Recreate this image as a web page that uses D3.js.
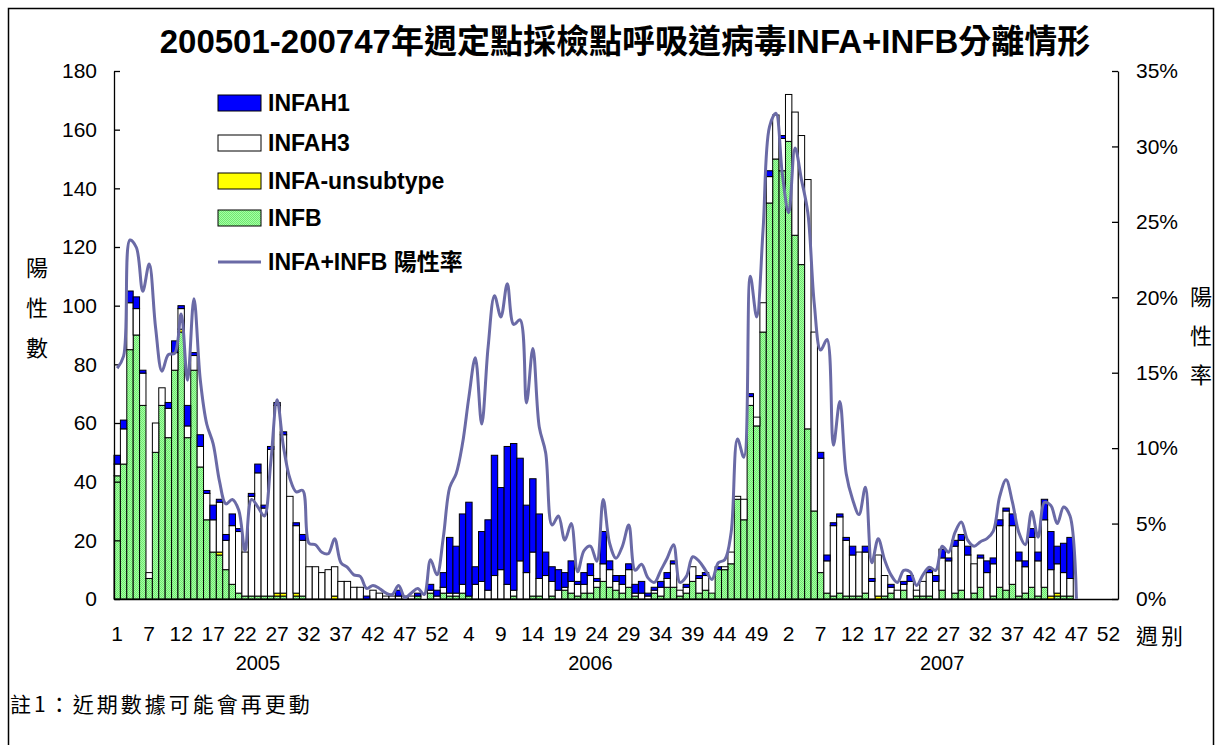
<!DOCTYPE html>
<html lang="zh-Hant">
<head>
<meta charset="UTF-8">
<title>200501-200747 INFA+INFB</title>
<script src="https://cdn.jsdelivr.net/npm/d3@7"></script>
<style>
  body { margin: 0; background: #fff; }
  svg text { font-family: "Liberation Sans", Arial, "Noto Sans CJK TC", sans-serif; fill: #000; }
  .cjk { font-family: "Noto Sans CJK TC", "Liberation Sans", sans-serif; }
</style>
</head>
<body>
<div id="chart"></div>
<script>
// x-axis tick labels, one every 5th week slot
const weekTicks = ["1","7","12","17","22","27","32","37","42","47","52",
                   "4","9","14","19","24","29","34","39","44","49",
                   "2","7","12","17","22","27","32","37","42","47","52"];
const yearLabels = ["2005", "2006", "2007"];

// counts per week (slot 0 = 2005 week 1 ... slot 150 = 2007 week 47)
const infb = [42,46,85,90,66,7,50,66,55,78,
              91,55,78,45,27,16,15,10,5,2,
              1,1,1,1,1,1,1,0,1,1,
              0,0,0,0,0,0,0,0,0,0,
              0,0,0,0,0,0,0,1,0,2,
              0,2,1,1,2,1,0,0,0,0,
              0,0,1,0,0,1,1,0,1,0,
              3,2,1,2,2,4,6,4,3,2,
              4,1,0,0,2,1,4,4,1,2,
              6,2,3,2,10,10,12,34,27,66,
              59,91,135,150,146,156,124,114,58,30,
              9,2,1,2,1,1,1,2,0,0,
              1,2,0,3,0,1,1,1,0,3,
              0,2,3,0,2,4,0,1,4,3,
              5,1,2,4,1,4,0,1,1,1,
              0];
const infaUnsub = [0,0,0,0,0,0,0,0,0,0,
                   1,0,0,0,0,0,1,0,0,0,
                   0,0,0,0,0,1,1,0,1,0,
                   0,0,0,0,1,0,0,0,0,0,
                   0,0,0,0,0,0,0,0,0,0,
                   0,0,0,0,0,0,0,0,0,0,
                   0,0,0,0,0,0,0,0,0,0,
                   0,0,0,0,0,0,0,0,0,0,
                   0,0,0,0,0,0,0,0,0,0,
                   0,0,0,0,0,0,0,0,0,0,
                   0,0,0,0,0,0,0,0,0,0,
                   0,0,0,0,0,0,0,0,0,1,
                   0,0,0,0,0,0,0,0,0,0,
                   0,0,0,0,0,0,0,0,0,0,
                   0,0,0,0,0,0,1,1,0,0,
                   0];
const infaH3 = [4,12,16,9,11,2,10,6,10,6,
                7,4,5,7,9,11,17,10,20,21,
                15,34,42,30,50,64,54,35,23,19,
                11,11,9,10,10,6,6,4,4,0,
                3,2,1,1,1,1,1,0,0,1,
                1,2,1,1,3,0,5,6,3,8,
                10,5,2,13,9,15,6,8,5,3,
                1,4,4,3,6,2,6,6,3,3,
                6,1,2,1,1,3,3,8,2,2,
                5,5,5,0,0,1,4,1,7,3,
                3,10,9,15,11,16,42,44,85,61,
                39,11,24,26,19,14,15,14,6,14,
                7,2,3,2,6,2,5,8,6,11,
                13,16,17,15,10,10,9,11,21,27,
                20,12,9,17,12,23,9,10,8,6,
                0];
const infaH1 = [3,3,4,4,1,0,0,0,2,4,
                1,7,1,4,1,5,1,2,4,1,
                0,1,3,1,1,1,1,0,1,2,
                0,0,0,0,0,0,0,0,0,1,
                0,0,0,0,2,0,0,1,0,2,
                2,5,19,16,24,32,6,17,24,41,
                28,47,50,35,23,25,22,8,5,7,
                5,7,1,4,4,1,11,3,2,3,
                2,3,4,1,1,2,2,1,0,1,
                0,1,1,0,1,0,0,0,0,1,
                0,0,2,0,1,0,0,0,0,0,
                2,2,1,1,1,3,0,2,1,0,
                0,1,0,1,2,0,0,1,2,3,
                1,2,2,3,0,1,4,2,2,1,
                4,3,2,3,3,7,13,6,10,14,
                0];
// INFA+INFB positive rate (%)
const posRate = [15.3,16.1,23.8,23.3,20.4,22.2,18.0,15.1,16.2,16.3,
                 18.9,14.5,19.9,14.5,11.6,10.3,7.8,6.3,6.6,5.9,
                 3.2,6.6,6.1,5.5,9.0,13.2,10.1,8.0,7.1,7.2,
                 3.7,3.6,3.1,3.0,4.0,2.4,2.1,1.6,1.5,0.7,
                 0.9,0.7,0.4,0.3,0.9,0.1,0.4,0.7,0.3,2.6,
                 1.6,4.1,7.4,8.3,10.3,13.4,16.0,11.6,16.7,20.1,
                 18.7,20.9,18.2,18.5,13.0,16.6,11.4,9.7,4.9,5.5,
                 3.9,5.0,1.8,3.2,3.5,2.5,6.6,3.7,2.7,3.5,
                 4.9,1.9,2.3,1.4,1.1,1.9,2.7,3.6,1.1,1.5,
                 2.8,2.5,1.9,1.3,2.4,2.6,4.4,10.6,9.4,21.4,
                 18.7,24.5,31.3,32.2,28.2,25.6,29.9,27.8,25.6,19.6,
                 16.5,17.2,10.2,13.1,8.3,6.6,5.6,7.4,2.4,4.0,
                 2.6,1.6,1.1,1.9,1.8,0.9,1.6,2.1,1.9,3.5,
                 3.1,4.4,5.1,3.9,3.5,3.8,4.0,4.5,6.8,7.9,
                 6.4,4.4,3.6,5.8,4.1,6.4,6.2,5.0,6.1,5.5,
                 0];

const seriesKeys = ["infb", "unsub", "h3", "h1"];
const seriesNames = {h1: "INFAH1", h3: "INFAH3", unsub: "INFA-unsubtype", infb: "INFB"};
const seriesColors = {h1: "#0000ff", h3: "#ffffff", unsub: "#ffff00", infb: "url(#greenDots)"};

const W = 1221, H = 745;
const nSlots = 157;
const plot = {left: 114, right: 1118, top: 71, bottom: 599};

const rows = infb.map((v, i) => ({i: i, infb: v, unsub: infaUnsub[i], h3: infaH3[i], h1: infaH1[i], rate: posRate[i]}));

const svg = d3.select("#chart").append("svg")
    .attr("width", W)
    .attr("height", H);

// light green with the little dither Excel uses
const pat = svg.append("defs").append("pattern")
    .attr("id", "greenDots")
    .attr("width", 2).attr("height", 2)
    .attr("patternUnits", "userSpaceOnUse");
pat.append("rect").attr("width", 2).attr("height", 2).attr("fill", "#a4ffa4");
pat.append("rect").attr("width", 1).attr("height", 1).attr("fill", "#70e870");
pat.append("rect").attr("x", 1).attr("y", 1).attr("width", 1).attr("height", 1).attr("fill", "#70e870");

svg.append("rect")
    .attr("x", 8.5).attr("y", 8.5)
    .attr("width", 1205).attr("height", 780)
    .attr("fill", "none")
    .attr("stroke", "#000")
    .attr("stroke-width", 1.5);

let x = d3.scaleBand()
    .domain(d3.range(nSlots))
    .range([plot.left, plot.right])
    .padding(0);
let y = d3.scaleLinear().domain([0, 180]).range([plot.bottom, plot.top]);
let y2 = d3.scaleLinear().domain([0, 35]).range([plot.bottom, plot.top]);

// stacked bars
let stack = d3.stack().keys(seriesKeys)(rows);
svg.append("g").selectAll("g")
  .data(stack)
  .enter().append("g")
    .attr("fill", d => seriesColors[d.key])
  .selectAll("rect")
  .data(d => d.filter(s => s[1] - s[0] > 0))
  .enter().append("rect")
    .attr("x", d => x(d.data.i))
    .attr("width", x.bandwidth())
    .attr("y", d => y(d[1]))
    .attr("height", d => y(d[0]) - y(d[1]))
    .attr("stroke", "#000")
    .attr("stroke-width", 1);

// axes
let yAxis = svg.append("g")
    .attr("transform", "translate(" + plot.left + ",0)")
    .call(d3.axisLeft(y).tickValues(d3.range(0, 181, 20)).tickSize(-6).tickSizeOuter(0).tickPadding(17));
let y2Axis = svg.append("g")
    .attr("transform", "translate(" + plot.right + ",0)")
    .call(d3.axisRight(y2).tickValues(d3.range(0, 36, 5)).tickFormat(d => d + "%").tickSize(-6).tickSizeOuter(0).tickPadding(18));
let xAxis = svg.append("g")
    .attr("transform", "translate(0," + plot.bottom + ")")
    .call(d3.axisBottom(x)
      .tickValues(weekTicks.map((t, k) => k * 5))
      .tickFormat(d => weekTicks[d / 5])
      .tickSize(0).tickSizeOuter(0).tickPadding(27));
[yAxis, y2Axis, xAxis].forEach(a => {
  a.attr("font-family", null).attr("font-size", null);
  a.selectAll("path, line").attr("stroke", "#000").attr("stroke-width", 1.3);
  a.selectAll("text").style("font-size", "21px");
});

// positive rate line
let line = d3.line()
    .x(d => x(d.i) + x.bandwidth() / 2)
    .y(d => y2(d.rate))
    .curve(d3.curveCatmullRom);
svg.append("path")
    .datum(rows)
    .attr("d", line)
    .attr("fill", "none")
    .attr("stroke", "#6a6aa6")
    .attr("stroke-width", 3);

// year labels under the week numbers
const yearSlot = [22, 74, 129];
svg.selectAll(".year")
  .data(yearLabels)
  .enter().append("text")
    .attr("class", "year")
    .attr("x", (d, k) => x(yearSlot[k]) + x.bandwidth() / 2)
    .attr("y", 670)
    .attr("text-anchor", "middle")
    .style("font-size", "20px")
    .text(d => d);

// title
svg.append("text")
    .attr("x", 625)
    .attr("y", 53)
    .attr("text-anchor", "middle")
    .style("font-size", "33px")
    .style("font-weight", "bold")
    .text("200501-200747年週定點採檢點呼吸道病毒INFA+INFB分離情形");

// axis titles, one character per line
const leftTitle = ["陽", "性", "數"];
const rightTitle = ["陽", "性", "率"];
svg.selectAll(".lt")
  .data(leftTitle)
  .enter().append("text")
    .attr("class", "cjk")
    .attr("x", 37)
    .attr("y", (d, k) => 276 + k * 40)
    .attr("text-anchor", "middle")
    .style("font-size", "22px")
    .text(d => d);
svg.selectAll(".rt")
  .data(rightTitle)
  .enter().append("text")
    .attr("class", "cjk")
    .attr("x", 1201)
    .attr("y", (d, k) => 305 + k * 39)
    .attr("text-anchor", "middle")
    .style("font-size", "22px")
    .text(d => d);

svg.append("text")
    .attr("class", "cjk")
    .attr("x", 1136)
    .attr("y", 644)
    .style("font-size", "22px")
    .style("letter-spacing", "3px")
    .text("週别");

svg.append("text")
    .attr("class", "cjk")
    .attr("x", 10)
    .attr("y", 712)
    .style("font-size", "21px")
    .style("letter-spacing", "3px")
    .text("註1：近期數據可能會再更動");

// legend
const legendKeys = ["h1", "h3", "unsub", "infb"];
const legendRowY = [103, 143, 181, 218];
let legend = svg.append("g");
legend.selectAll("rect")
  .data(legendKeys)
  .enter().append("rect")
    .attr("x", 218)
    .attr("y", (d, k) => legendRowY[k] - 8)
    .attr("width", 43)
    .attr("height", 16)
    .attr("fill", d => seriesColors[d])
    .attr("stroke", "#000")
    .attr("stroke-width", 1);
legend.selectAll("text")
  .data(legendKeys)
  .enter().append("text")
    .attr("x", 268)
    .attr("y", (d, k) => legendRowY[k] + 8)
    .style("font-size", "23px")
    .style("font-weight", "bold")
    .text(d => seriesNames[d]);
legend.append("line")
    .attr("x1", 218).attr("x2", 261)
    .attr("y1", 262).attr("y2", 262)
    .attr("stroke", "#6a6aa6")
    .attr("stroke-width", 3);
legend.append("text")
    .attr("x", 268)
    .attr("y", 270)
    .style("font-size", "23px")
    .style("font-weight", "bold")
    .text("INFA+INFB 陽性率");
</script>
</body>
</html>
